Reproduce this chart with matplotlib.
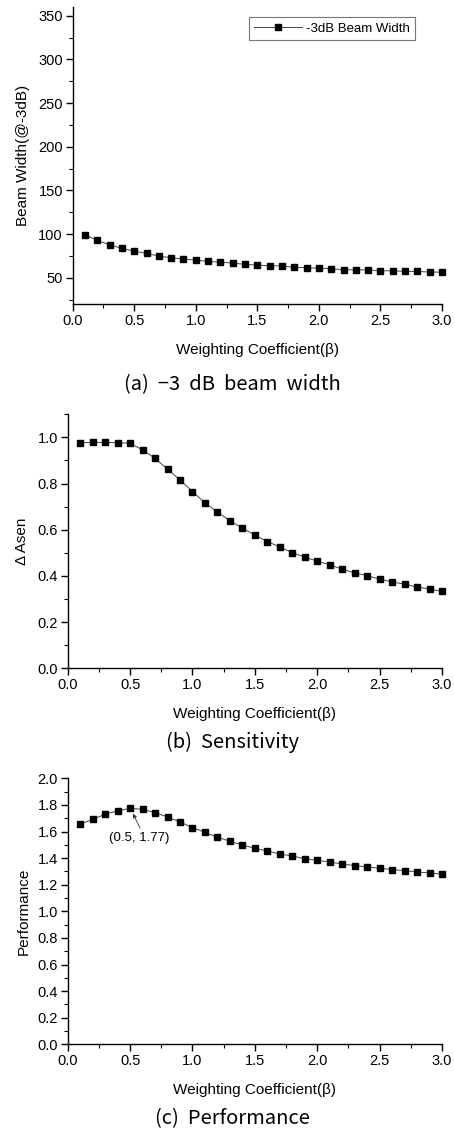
import numpy as np
import matplotlib
matplotlib.use("Agg")
import matplotlib.pyplot as plt
from matplotlib.ticker import MultipleLocator, FormatStrFormatter

plt.rcParams['font.family'] = ['Liberation Sans', 'DejaVu Sans']

# ---- data ----
beta = [0.1, 0.2, 0.3, 0.4, 0.5, 0.6, 0.7, 0.8, 0.9, 1.0,
        1.1, 1.2, 1.3, 1.4, 1.5, 1.6, 1.7, 1.8, 1.9, 2.0,
        2.1, 2.2, 2.3, 2.4, 2.5, 2.6, 2.7, 2.8, 2.9, 3.0]

beam_width = [99.2, 92.7, 87.8, 83.6, 80.5, 77.9, 74.8, 72.9, 71.4, 70.2,
              68.7, 67.9, 66.8, 65.3, 64.5, 63.7, 63.7, 61.8, 61.5, 61.0,
              60.3, 59.2, 59.2, 58.8, 58.0, 58.0, 57.3, 57.3, 56.5, 56.5]

sensitivity = [0.977, 0.978, 0.978, 0.977, 0.974, 0.946, 0.909, 0.862, 0.816, 0.765,
               0.717, 0.677, 0.639, 0.607, 0.577, 0.549, 0.525, 0.501, 0.481, 0.464,
               0.448, 0.429, 0.413, 0.401, 0.386, 0.374, 0.364, 0.352, 0.343, 0.333]

performance = [1.655, 1.692, 1.730, 1.755, 1.775, 1.767, 1.742, 1.710, 1.672, 1.630,
               1.594, 1.557, 1.527, 1.499, 1.474, 1.454, 1.431, 1.416, 1.396, 1.384,
               1.371, 1.356, 1.344, 1.334, 1.324, 1.314, 1.306, 1.296, 1.289, 1.279]

xlabel = 'Weighting Coefficient(β)'
captions = ['(a)  −3  dB  beam  width', '(b)  Sensitivity', '(c)  Performance']

# ---- figure ----
fig = plt.figure(figsize=(4.55, 11.3), dpi=100, facecolor='white')

ax_a = fig.add_axes([0.1598, 0.7310, 0.8116, 0.2628])
ax_b = fig.add_axes([0.1488, 0.4086, 0.8226, 0.2248])
ax_c = fig.add_axes([0.1488, 0.0758, 0.8226, 0.2354])


def style(ax, ylim, ymajor, yminor):
    ax.set_xlim(0, 3.0)
    ax.set_ylim(*ylim)
    ax.xaxis.set_major_locator(MultipleLocator(0.5))
    ax.xaxis.set_minor_locator(MultipleLocator(0.25))
    ax.yaxis.set_major_locator(MultipleLocator(ymajor))
    ax.yaxis.set_minor_locator(MultipleLocator(yminor))
    ax.xaxis.set_major_formatter(FormatStrFormatter('%.1f'))
    ax.spines['top'].set_visible(False)
    ax.spines['right'].set_visible(False)
    for s in ('left', 'bottom'):
        ax.spines[s].set_linewidth(1.0)
    ax.tick_params(which='major', direction='out', length=5, width=1.0,
                   labelsize=10.5, pad=2)
    ax.tick_params(which='minor', direction='out', length=3, width=0.8)
    ax.set_xlabel(xlabel, fontsize=11, labelpad=11)


def series(ax, y, label=None):
    ax.plot(beta, y, color='#444444', lw=0.7, marker='s', ms=4.4,
            mfc='black', mec='black', label=label, clip_on=False)


# (a)
series(ax_a, beam_width, '-3dB Beam Width')
style(ax_a, (20, 360), 50, 25)
ax_a.set_ylabel('Beam Width(@-3dB)', fontsize=11, labelpad=6)
leg = ax_a.legend(loc='upper left', bbox_to_anchor=(0.477, 0.966),
                  borderaxespad=0, fancybox=False, fontsize=9.5,
                  handlelength=3.6, borderpad=0.4, handletextpad=0.3)
leg.get_frame().set_edgecolor('#555555')
leg.get_frame().set_linewidth(0.8)

# (b)
series(ax_b, sensitivity)
style(ax_b, (0, 1.1), 0.2, 0.1)
ax_b.yaxis.set_major_formatter(FormatStrFormatter('%.1f'))
ax_b.set_ylabel('Δ Asen', fontsize=11, labelpad=6)

# (c)
series(ax_c, performance)
style(ax_c, (0, 2.0), 0.2, 0.1)
ax_c.yaxis.set_major_formatter(FormatStrFormatter('%.1f'))
ax_c.set_ylabel('Performance', fontsize=11, labelpad=5)
ax_c.annotate('(0.5, 1.77)', xy=(0.523, 1.735), xytext=(0.571, 1.551),
              fontsize=9.5, ha='center', va='center',
              arrowprops=dict(arrowstyle='-|>', color='#333333', lw=0.6,
                              mutation_scale=6, shrinkA=1, shrinkB=0,
                              relpos=(0.55, 1.0)))

# captions
cap_y = [0.6593, 0.3434, 0.0097]
for txt, y in zip(captions, cap_y):
    fig.text(0.51, y, txt, ha='center', va='center', fontsize=14.5,
             family=['Noto Sans CJK KR', 'DejaVu Sans'])

fig.savefig('out.png', dpi=100, facecolor='white')
